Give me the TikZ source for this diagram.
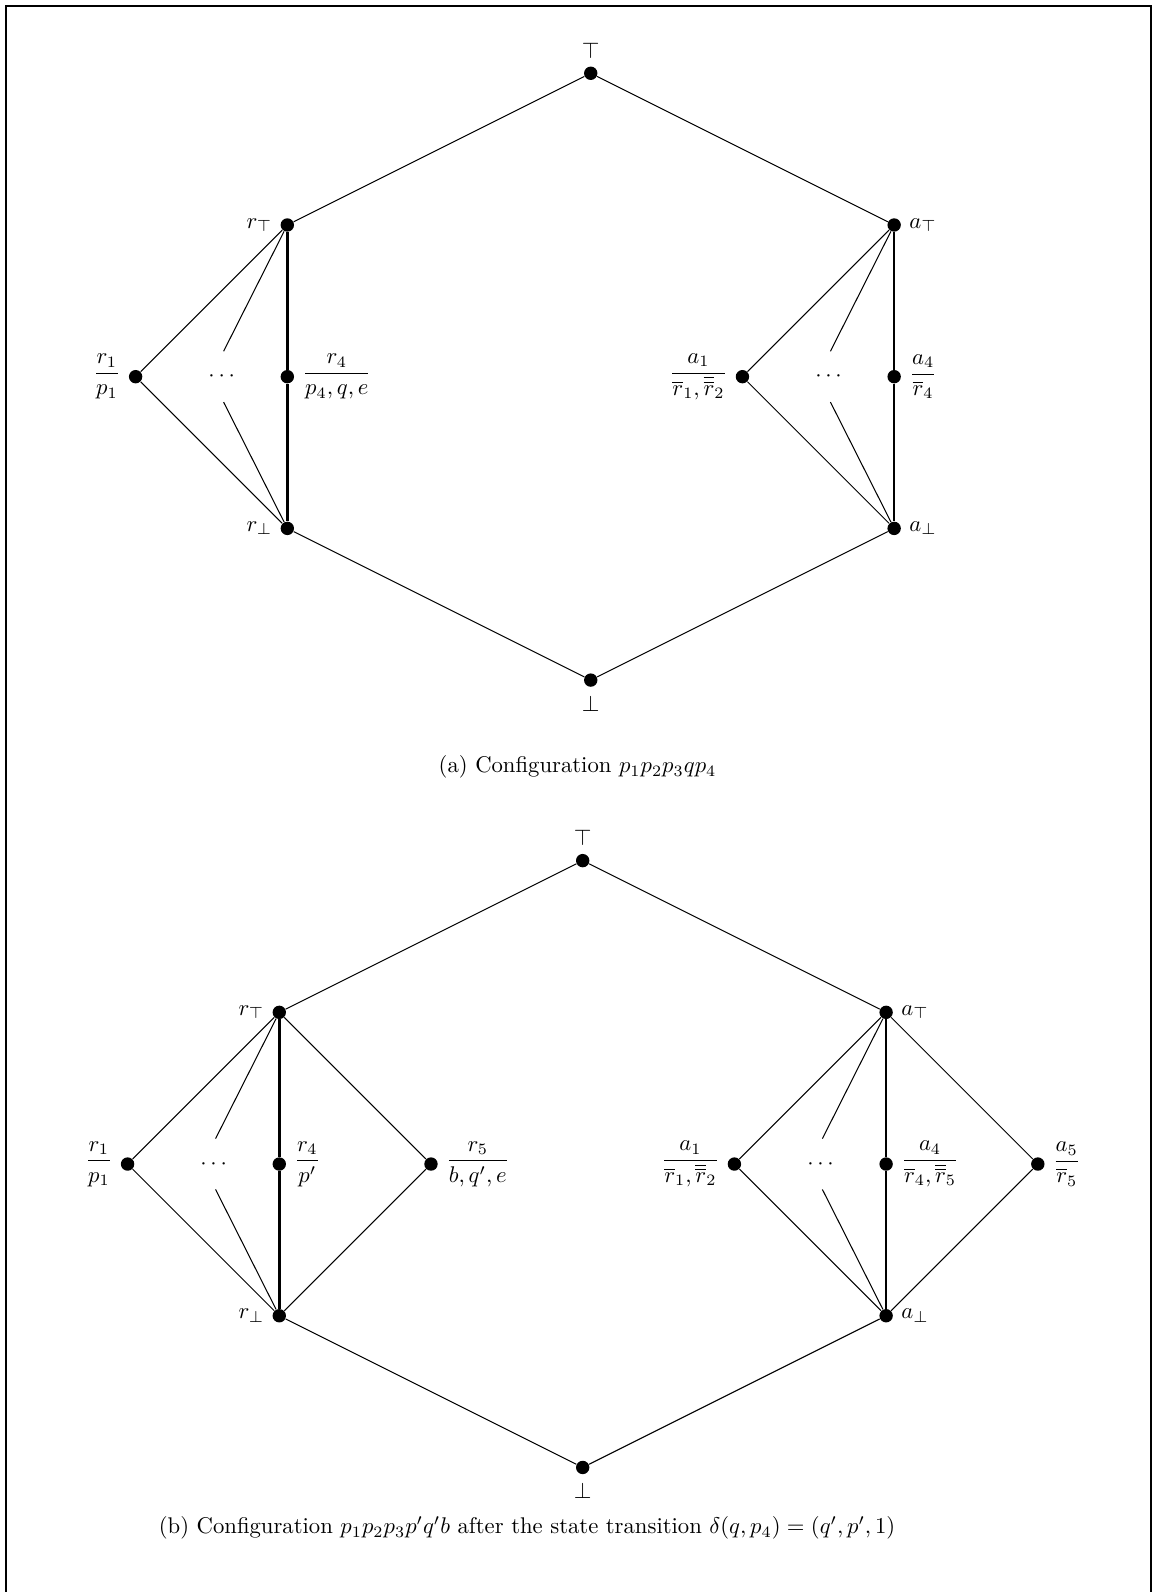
\documentclass[tikz,border=0pt]{standalone}
\usepackage{amsmath}
\newcommand{\rb}[1]{\overline{r}_{#1}}
\newcommand{\rbb}[1]{\overline{\overline{r}}_{#1}}

\begin{document}
\begin{tikzpicture}[
    x=2.35cm, y=2.35cm,
    vertex/.style={circle, fill, inner sep=0pt, minimum size=5.9pt},
    gapdots/.style={inner sep=0pt, minimum height=22pt},
    edge/.style={line width=0.45pt},
    spine/.style={line width=1.1pt},
    frame/.style={line width=0.9pt}
]
\useasboundingbox (-3.894,-10.011) rectangle (3.713,0.483);
\draw[frame] (-3.854,-10.011) -- (-3.854,0.444) -- (3.693,0.444) -- (3.693,-10.011);

% (a) configuration before the step
\node[vertex, label=above:$\top$] (top) at (0,0) {};
\node[vertex, label=left:$r_\top$] (rt) at (-2,-1) {};
\node[vertex, label=right:$a_\top$] (at) at (2,-1) {};
\node[vertex, label=left:$\dfrac{r_1}{p_1}$] (r1) at (-3,-2) {};
\node[gapdots] (dl) at (-2.42,-2) {$\cdots$};
\node[vertex, label=right:$\dfrac{r_4}{p_4,q,e}$] (r4) at (-2,-2) {};
\node[vertex, label=left:$\dfrac{a_1}{\rb1,\rbb2}$] (a1) at (1,-2) {};
\node[gapdots] (dr) at (1.58,-2) {$\cdots$};
\node[vertex, label=right:$\dfrac{a_4}{\rb4}$] (a4) at (2,-2) {};
\node[vertex, label=left:$r_\bot$] (rbot) at (-2,-3) {};
\node[vertex, label=right:$a_\bot$] (abot) at (2,-3) {};
\node[vertex, label=below:$\bot$] (bot) at (0,-4) {};

\draw[edge] (top) -- (rt);
\draw[edge] (top) -- (at);
\draw[edge] (rt) -- (r1) -- (rbot);
\draw[edge] (rt) -- (dl.north);
\draw[edge] (dl.south) -- (rbot);
\draw[spine] (rt) -- (r4) -- (rbot);
\draw[edge] (at) -- (a1) -- (abot);
\draw[edge] (at) -- (dr.north);
\draw[edge] (dr.south) -- (abot);
\draw[spine] (at) -- (a4) -- (abot);
\draw[edge] (rbot) -- (bot);
\draw[edge] (abot) -- (bot);

\node (capa) at (-0.087,-4.573) {(a) Configuration $p_1p_2p_3qp_4$};

% (b) after the transition
\begin{scope}[shift={(-0.053,-5.19)}]
\node[vertex, label=above:$\top$] (btop) at (0,0) {};
\node[vertex, label=left:$r_\top$] (brt) at (-2,-1) {};
\node[vertex, label=right:$a_\top$] (bat) at (2,-1) {};
\node[vertex, label=left:$\dfrac{r_1}{p_1}$] (br1) at (-3,-2) {};
\node[gapdots] (bdl) at (-2.42,-2) {$\cdots$};
\node[vertex, label=right:$\dfrac{r_4}{p'}$] (br4) at (-2,-2) {};
\node[vertex, label=right:$\dfrac{r_5}{b,q',e}$] (br5) at (-1,-2) {};
\node[vertex, label=left:$\dfrac{a_1}{\rb1,\rbb2}$] (ba1) at (1,-2) {};
\node[gapdots] (bdr) at (1.58,-2) {$\cdots$};
\node[vertex, label=right:$\dfrac{a_4}{\rb4,\rbb5}$] (ba4) at (2,-2) {};
\node[vertex, label=right:$\dfrac{a_5}{\rb5}$] (ba5) at (3,-2) {};
\node[vertex, label=left:$r_\bot$] (brbot) at (-2,-3) {};
\node[vertex, label=right:$a_\bot$] (babot) at (2,-3) {};
\node[vertex, label=below:$\bot$] (bbot) at (0,-4) {};

\draw[edge] (btop) -- (brt);
\draw[edge] (btop) -- (bat);
\draw[edge] (brt) -- (br1) -- (brbot);
\draw[edge] (brt) -- (bdl.north);
\draw[edge] (bdl.south) -- (brbot);
\draw[spine] (brt) -- (br4) -- (brbot);
\draw[edge] (brt) -- (br5) -- (brbot);
\draw[edge] (bat) -- (ba1) -- (babot);
\draw[edge] (bat) -- (bdr.north);
\draw[edge] (bdr.south) -- (babot);
\draw[spine] (bat) -- (ba4) -- (babot);
\draw[edge] (bat) -- (ba5) -- (babot);
\draw[edge] (brbot) -- (bbot);
\draw[edge] (babot) -- (bbot);
\end{scope}

\node (capb) at (-0.42,-9.59) {(b) Configuration $p_1p_2p_3p'q'b$ after the state transition $\delta(q,p_4)=(q',p',1)$};
\end{tikzpicture}
\end{document}
